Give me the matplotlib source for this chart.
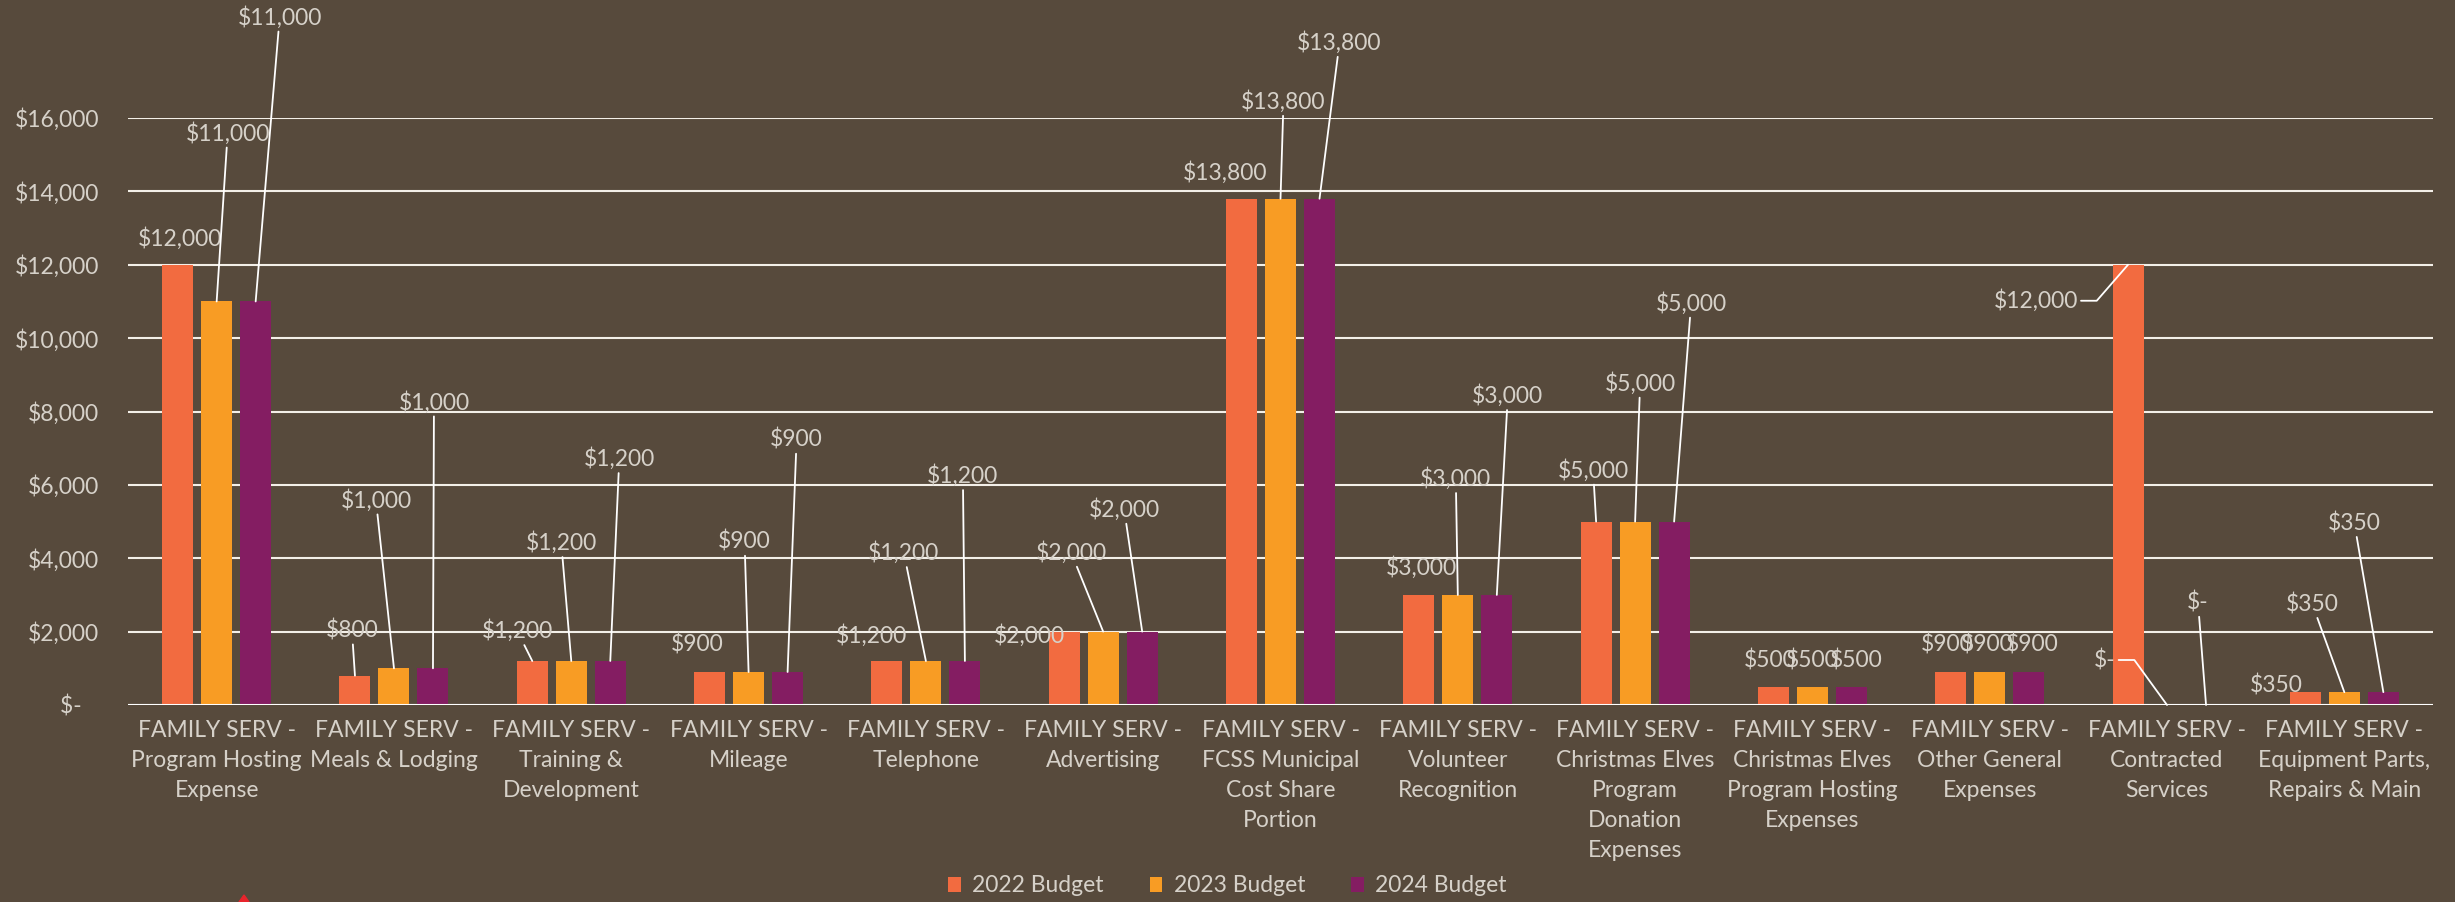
import matplotlib
matplotlib.use("Agg")
import matplotlib.pyplot as plt
from matplotlib.patches import Polygon
import numpy as np

# chart data
categories = [
    "FAMILY SERV -\nProgram Hosting\nExpense",
    "FAMILY SERV -\nMeals & Lodging",
    "FAMILY SERV -\nTraining &\nDevelopment",
    "FAMILY SERV -\nMileage",
    "FAMILY SERV -\nTelephone",
    "FAMILY SERV -\nAdvertising",
    "FAMILY SERV -\nFCSS Municipal\nCost Share\nPortion",
    "FAMILY SERV -\nVolunteer\nRecognition",
    "FAMILY SERV -\nChristmas Elves\nProgram\nDonation\nExpenses",
    "FAMILY SERV -\nChristmas Elves\nProgram Hosting\nExpenses",
    "FAMILY SERV -\nOther General\nExpenses",
    "FAMILY SERV -\nContracted\nServices",
    "FAMILY SERV -\nEquipment Parts,\nRepairs & Main",
]
series_names = ["2022 Budget", "2023 Budget", "2024 Budget"]
budget_2022 = [12000, 800, 1200, 900, 1200, 2000, 13800, 3000, 5000, 500, 900, 12000, 350]
budget_2023 = [11000, 1000, 1200, 900, 1200, 2000, 13800, 3000, 5000, 500, 900, 0, 350]
budget_2024 = [11000, 1000, 1200, 900, 1200, 2000, 13800, 3000, 5000, 500, 900, 0, 350]
y_ticks = [0, 2000, 4000, 6000, 8000, 10000, 12000, 14000, 16000]

# label placement (pixel offsets from bar top, leader kind), one row per series
label_offsets = [
    [(2, 26, 0), (-3, 45, 1), (-15, 30, 1), (-12, 27, 0), (-15, 25, 0), (-35, -4, 0), (-16, 26, 0),
     (3, 27, 0), (-3, 51, 1), (-3, 26, 0), (-4, 27, 0), (-92, -36, 2), (-29, 7, 0)],
    [(11, 168, 1), (-18, 168, 1), (-10, 118, 1), (-4, 130, 1), (-22, 108, 1), (-32, 79, 1), (3, 97, 1),
     (-2, 116, 1), (5, 138, 1), (0, 26, 0), (-3, 27, 0), (-62, 45, 3), (-32, 88, 1)],
    [(24, 284, 1), (1, 266, 1), (9, 202, 1), (9, 232, 1), (-2, 185, 1), (-18, 122, 1), (20, 156, 1),
     (11, 199, 1), (17, 218, 1), (5, 26, 0), (3, 27, 0), (-8, 102, 1), (-29, 169, 1)],
]

bg = "#574A3C"
text_col = "#D6D1C9"
colors = ["#F26B40", "#F89C24", "#841D62"]

plt.rcParams["font.family"] = ["Lato", "DejaVu Sans"]

fig = plt.figure(figsize=(24.55, 9.02), dpi=100, facecolor=bg)
ax = fig.add_axes([128 / 2455, 1 - 705 / 902, (2433 - 128) / 2455, 587 / 902])
ax.set_facecolor(bg)

x = np.arange(len(categories))
width = 0.175
step = 0.22
all_series = [budget_2022, budget_2023, budget_2024]

for i, vals in enumerate(all_series):
    ax.bar(x + (i - 1) * step, vals, width, color=colors[i], label=series_names[i], zorder=3)

ax.set_xlim(-0.5, len(categories) - 0.5)
ax.set_ylim(0, 16000)
ax.set_yticks(y_ticks)
ax.set_yticklabels(["$-   "] + ["${:,}".format(v) for v in y_ticks[1:]])
ax.set_xticks(x)
ax.set_xticklabels(categories, linespacing=1.52)
ax.tick_params(axis="both", length=0, labelsize=16.5, labelcolor=text_col)
ax.tick_params(axis="y", pad=21)
ax.tick_params(axis="x", pad=11)
for s in ax.spines.values():
    s.set_visible(False)
ax.grid(axis="y", color="#F3EFE8", lw=1.5, zorder=1)
ax.axhline(0, color="white", lw=2.2, zorder=4)

# data labels with leader lines
for i, vals in enumerate(all_series):
    for g, v in enumerate(vals):
        dx, dy, lead = label_offsets[i][g]
        txt = "$-" if v == 0 else "${:,}".format(v)
        props = None
        if lead == 1:
            props = dict(arrowstyle="-", color="white", lw=1.3, shrinkA=0, shrinkB=0)
        elif lead == 2:
            props = dict(arrowstyle="-", color="white", lw=1.3, shrinkA=0, shrinkB=0,
                         relpos=(1, 0.5), connectionstyle="angle,angleA=0,angleB=49,rad=0")
        elif lead == 3:
            props = dict(arrowstyle="-", color="white", lw=1.3, shrinkA=0, shrinkB=0,
                         relpos=(1, 0.5), connectionstyle="angle,angleA=0,angleB=-54,rad=0")
        ax.annotate(txt, xy=(g + (i - 1) * step, v), xytext=(dx, dy),
                    textcoords="offset pixels", ha="center", va="center",
                    fontsize=16.5, color=text_col, arrowprops=props,
                    annotation_clip=False, zorder=5)

fig.legend(loc="center", bbox_to_anchor=(0.5, 1 - 886 / 902), ncol=3,
           frameon=False, fontsize=16.5, labelcolor=text_col, handlelength=0.55,
           handleheight=0.6, handletextpad=0.5, columnspacing=2.0)

# small red mark at the bottom edge
fig.add_artist(Polygon([[239 / 2455, 0], [249 / 2455, 0], [244 / 2455, 7 / 902]],
                       closed=True, transform=fig.transFigure, color="#E8242C"))

fig.savefig("out.png", dpi=100, facecolor=bg)
